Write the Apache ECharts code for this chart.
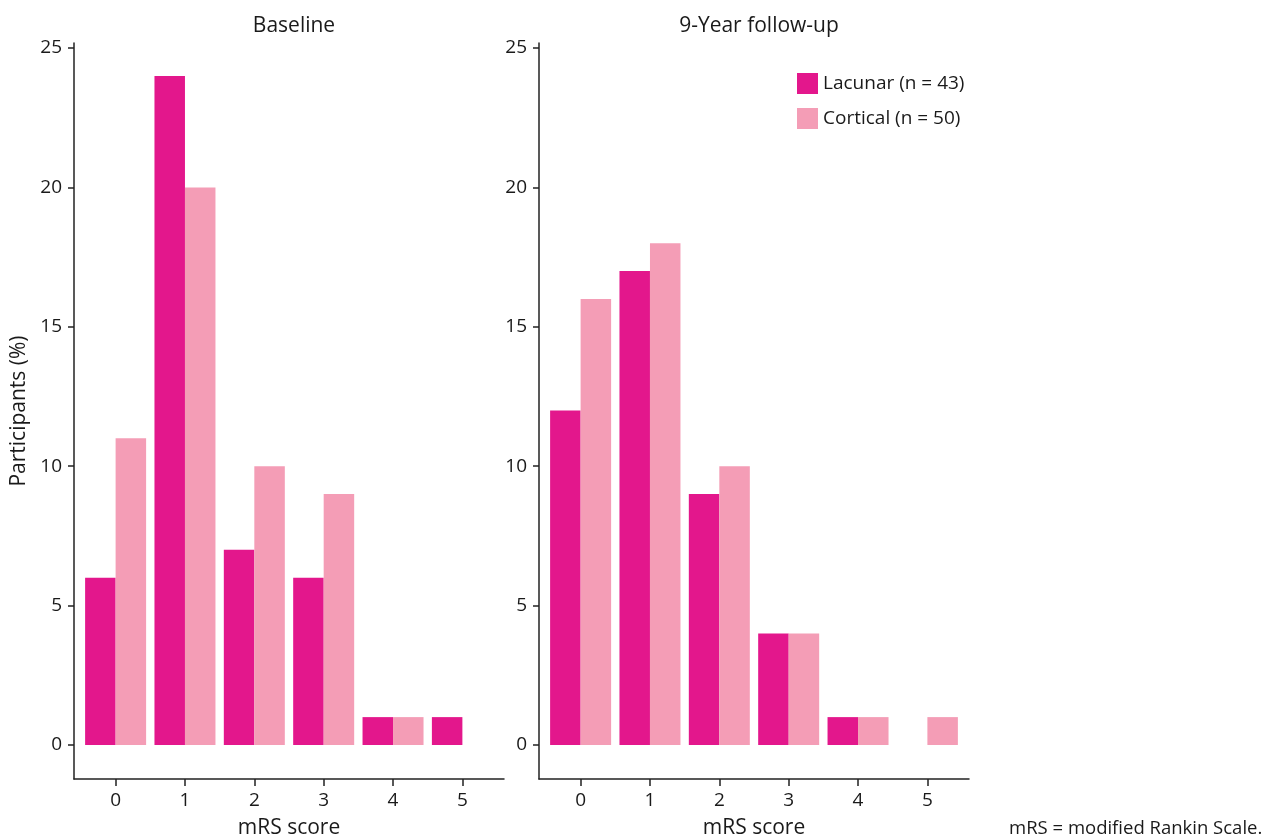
<!DOCTYPE html>
<html>
<head>
<meta charset="utf-8">
<script src="https://cdn.jsdelivr.net/npm/echarts@6/dist/echarts.min.js"></script>
<style>
html,body{margin:0;padding:0;background:#fff;}
#chart{width:1269px;height:838px;}
</style>
</head>
<body>
<div id="chart"></div>
<script>
const scores = [0, 1, 2, 3, 4, 5];
const yTicks = [0, 5, 10, 15, 20, 25];
const panelTitles = ['Baseline', '9-Year follow-up'];
const seriesNames = ['Lacunar (n = 43)', 'Cortical (n = 50)'];
const baselineLacunar = [6, 24, 7, 6, 1, 1];
const baselineCortical = [11, 20, 10, 9, 1, 0];
const followupLacunar = [12, 17, 9, 4, 1, 0];
const followupCortical = [16, 18, 10, 4, 1, 1];

const colors = ['#E3178C', '#F49DB6'];
const font = '"Open Sans", "Noto Sans", sans-serif';
const txt = '#1a1a1a';
const axisColor = '#222';

function toPairs(vals) {
  return scores.map((s, i) => vals[i] > 0 ? [s, vals[i]] : null).filter(d => d);
}

const grids = [
  {left: 74, right: 1269 - 504, top: 43, bottom: 838 - 779, containLabel: false, outerBoundsMode: 'none'},
  {left: 539, right: 1269 - 969, top: 43, bottom: 838 - 779, containLabel: false, outerBoundsMode: 'none'}
];

function xAxis(i) {
  return {
    type: 'value', gridIndex: i, min: -0.6, max: 5.6,
    name: 'mRS score', nameLocation: 'middle', nameGap: 39,
    nameTextStyle: {fontFamily: font, fontSize: 21, color: txt},
    axisLine: {show: true, onZero: false, lineStyle: {color: axisColor, width: 1.5}},
    axisTick: {show: true, length: 7, inside: false, customValues: scores, lineStyle: {color: axisColor, width: 1.5}},
    axisLabel: {show: true, margin: 12, customValues: scores, fontFamily: font, fontSize: 19, color: txt},
    splitLine: {show: false}
  };
}
function yAxis(i) {
  return {
    type: 'value', gridIndex: i, min: -1.22, max: 25.18,
    name: i === 0 ? 'Participants (%)' : '', nameLocation: 'middle', nameGap: 44,
    nameTextStyle: {fontFamily: font, fontSize: 21, color: txt},
    axisLine: {show: true, onZero: false, lineStyle: {color: axisColor, width: 1.5}},
    axisTick: {show: true, length: 6, inside: false, customValues: yTicks, lineStyle: {color: axisColor, width: 1.5}},
    axisLabel: {show: true, margin: 12, customValues: yTicks, fontFamily: font, fontSize: 19, color: txt},
    splitLine: {show: false}
  };
}

function bar(name, vals, i, c) {
  return {
    type: 'bar', name: name, xAxisIndex: i, yAxisIndex: i,
    data: toPairs(vals), barWidth: 30.5, barGap: '0%',
    itemStyle: {color: colors[c], borderWidth: 0},
    emphasis: {disabled: true}
  };
}

const option = {
  animation: false,
  backgroundColor: '#fff',
  title: [
    {text: panelTitles[0], left: 289, top: 11, textAlign: 'center',
     textStyle: {fontFamily: font, fontSize: 21, fontWeight: 'normal', color: txt}},
    {text: panelTitles[1], left: 754, top: 11, textAlign: 'center',
     textStyle: {fontFamily: font, fontSize: 21, fontWeight: 'normal', color: txt}}
  ],
  legend: {
    orient: 'vertical', left: 797, top: 73,
    itemWidth: 21, itemHeight: 21, itemGap: 14,
    icon: 'rect',
    data: seriesNames,
    textStyle: {fontFamily: font, fontSize: 19, color: txt, padding: [0, 0, 0, 0]},
    itemStyle: {borderWidth: 0},
    padding: 0,
    selectedMode: false
  },
  grid: grids,
  xAxis: [xAxis(0), xAxis(1)],
  yAxis: [yAxis(0), yAxis(1)],
  series: [
    bar(seriesNames[0], baselineLacunar, 0, 0),
    bar(seriesNames[1], baselineCortical, 0, 1),
    bar(seriesNames[0], followupLacunar, 1, 0),
    bar(seriesNames[1], followupCortical, 1, 1)
  ],
  graphic: [
    {type: 'text', left: 1009, top: 819,
     style: {text: 'mRS = modified Rankin Scale.', fontFamily: font, fontSize: 18.5, fill: txt}}
  ]
};

const chart = echarts.init(document.getElementById('chart'), null, {renderer: 'canvas'});
chart.setOption(option);
</script>
</body>
</html>
